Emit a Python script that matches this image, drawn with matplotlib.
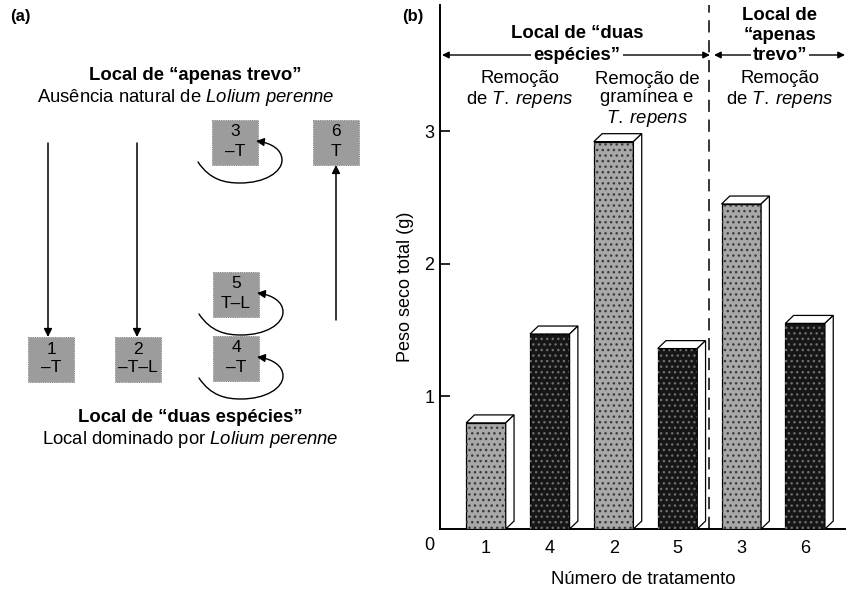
import numpy as np
import matplotlib.pyplot as plt
from matplotlib.patches import Rectangle, Polygon, FancyArrowPatch
from matplotlib.path import Path

plt.rcParams['font.family'] = ['Liberation Sans', 'DejaVu Sans']
plt.rcParams['mathtext.fontset'] = 'custom'
plt.rcParams['mathtext.rm'] = 'Liberation Sans'
plt.rcParams['mathtext.it'] = 'Liberation Sans:italic'

#--- dados do painel (b)
tratamentos = ["1", "4", "2", "5", "3", "6"]
peso_seco = [0.80, 1.47, 2.92, 1.36, 2.45, 1.55]
claro = [True, False, True, False, True, False]   # barras claras = sem remocao de graminea
yticks = [1, 2, 3]

#--- painel (a): caixas de tratamento
caixas_num = ["1", "2", "3", "4", "5", "6"]
caixas_txt = ["–T", "–T–L", "–T", "–T", "T–L", "T"]
caixas_pos = [(28, 337), (115, 337), (212, 120), (213, 336), (213, 272), (313, 120)]

W, H = 846, 594
fig = plt.figure(figsize=(W / 100, H / 100), dpi=100)

# eixo de sobreposicao em pixels (painel a + textos)
ax0 = fig.add_axes([0, 0, 1, 1])
ax0.set_xlim(0, W)
ax0.set_ylim(H, 0)
ax0.axis('off')

FS = 13.3
LS = 1.08
ax0.text(20, 16, "(a)", fontsize=12, fontweight='bold', ha='center', va='center')
ax0.text(195, 75, "Local de “apenas trevo”", fontsize=FS, fontweight='bold', ha='center', va='center')
ax0.text(186, 98, r"Ausência natural de $\mathit{Lolium\ perenne}$", fontsize=FS, ha='center', va='center')
ax0.text(190, 418, "Local de “duas espécies”", fontsize=FS, fontweight='bold', ha='center', va='center')
ax0.text(190, 440, r"Local dominado por $\mathit{Lolium\ perenne}$", fontsize=FS, ha='center', va='center')

for num, txt, (bx, by) in zip(caixas_num, caixas_txt, caixas_pos):
    ax0.add_patch(Rectangle((bx, by), 46, 45, fc='#9c9c9c', ec='#6a6a6a', lw=0.6, ls=':'))
    ax0.text(bx + 23, by + 12, num, fontsize=12.5, ha='center', va='center')
    ax0.text(bx + 23, by + 31, txt, fontsize=12.5, ha='center', va='center')

# setas retas
for (x, y0, y1) in [(48, 143, 337), (137, 143, 337), (336, 320, 165)]:
    ax0.annotate("", xy=(x, y1), xytext=(x, y0),
                 arrowprops=dict(arrowstyle='-|>', color='black', lw=1.1,
                                 mutation_scale=12, shrinkA=0, shrinkB=0))

# setas em laco (tratamentos 3, 5, 4)
for (bx, by) in [caixas_pos[2], caixas_pos[4], caixas_pos[3]]:
    verts = [(bx - 14, by + 42),
             (bx - 2, by + 60), (bx + 13, by + 63), (bx + 28, by + 63),
             (bx + 53, by + 63), (bx + 70, by + 52), (bx + 70, by + 40),
             (bx + 70, by + 30), (bx + 60, by + 23), (bx + 44, by + 21)]
    codes = [Path.MOVETO] + [Path.CURVE4] * 9
    ax0.add_patch(FancyArrowPatch(path=Path(verts, codes), arrowstyle='-|>',
                                  mutation_scale=12, color='black', lw=1.0))

# cabecalho painel (b)
ax0.text(413, 16, "(b)", fontsize=12, fontweight='bold', ha='center', va='center')
ax0.text(577, 33, "Local de “duas", fontsize=FS, fontweight='bold', ha='center', va='center')
ax0.text(577, 55, "espécies”", fontsize=FS, fontweight='bold', ha='center', va='center',
         bbox=dict(fc='white', ec='none', pad=2), zorder=5)
for t, yy in [("Local de", 15), ("“apenas", 35), ("trevo”", 55)]:
    ax0.text(780, yy, t, fontsize=FS, fontweight='bold', ha='center', va='center',
             bbox=dict(fc='white', ec='none', pad=1.5) if yy == 55 else None, zorder=5)
for xa, xb in [(442, 710), (714, 845)]:
    ax0.annotate("", xy=(xa, 55), xytext=(xb, 55),
                 arrowprops=dict(arrowstyle='<|-|>', color='black', lw=1.0,
                                 mutation_scale=10, shrinkA=0, shrinkB=0), zorder=2)
ax0.text(520, 90, "Remoção\n" + r"de $\mathit{T.\;repens}$", fontsize=FS, ha='center', va='center',
         linespacing=LS)
ax0.text(647, 100, "Remoção de\ngramínea e\n" + r"$\mathit{T.\;repens}$", fontsize=FS,
         ha='center', va='center', linespacing=LS)
ax0.text(780, 90, "Remoção\n" + r"de $\mathit{T.\;repens}$", fontsize=FS, ha='center', va='center',
         linespacing=LS)
ax0.text(429, 545, "0", fontsize=13, ha='center', va='center')

#--- painel (b): grafico de barras
ax = fig.add_axes([440 / W, (H - 529) / H, 406 / W, 524 / H])
ax.patch.set_alpha(0)
ax.set_xlim(-0.72, 5.64)
ax.set_ylim(0, 3.95)

bw = 0.62
dx, dy = 0.13, 0.06
for i, v in enumerate(peso_seco):
    x0, x1 = i - bw / 2, i + bw / 2
    cor = '#a8a8a8' if claro[i] else '#161616'
    pont = '#3a3a3a' if claro[i] else '#6e6e6e'
    ax.bar(i, v, bw, color=cor, edgecolor='black', lw=0.9, zorder=3)
    ax.bar(i, v, bw, fill=False, hatch='...', edgecolor=pont, lw=0, zorder=3)
    ax.add_patch(Polygon([(x0, v), (x1, v), (x1 + dx, v + dy), (x0 + dx, v + dy)],
                         closed=True, fc='white', ec='black', lw=0.9, zorder=4))
    ax.add_patch(Polygon([(x1, 0), (x1, v), (x1 + dx, v + dy), (x1 + dx, dy)],
                         closed=True, fc='white', ec='black', lw=0.9, zorder=4))

ax.axvline(3.5, color='black', lw=1.1, dashes=(8, 5), ymax=1.0, clip_on=False, zorder=2)

ax.spines['top'].set_visible(False)
ax.spines['right'].set_visible(False)
ax.spines['left'].set_linewidth(1.4)
ax.spines['bottom'].set_linewidth(1.4)
ax.set_yticks(yticks)
ax.set_yticklabels([str(t) for t in yticks], fontsize=13)
ax.tick_params(axis='y', direction='in', length=7, width=1.2, pad=4)
ax.set_xticks(range(len(tratamentos)))
ax.set_xticklabels(tratamentos, fontsize=13)
ax.tick_params(axis='x', length=0, pad=8)

ax.set_ylabel("Peso seco total (g)", fontsize=13)
ax.yaxis.set_label_coords(-0.086, 0.462)
ax.yaxis.label.set_va('center')
ax.set_xlabel("Número de tratamento", fontsize=13.3)
ax.xaxis.set_label_coords(0.5, -0.097)
ax.xaxis.label.set_va('center')

fig.savefig("out.png", dpi=100)
